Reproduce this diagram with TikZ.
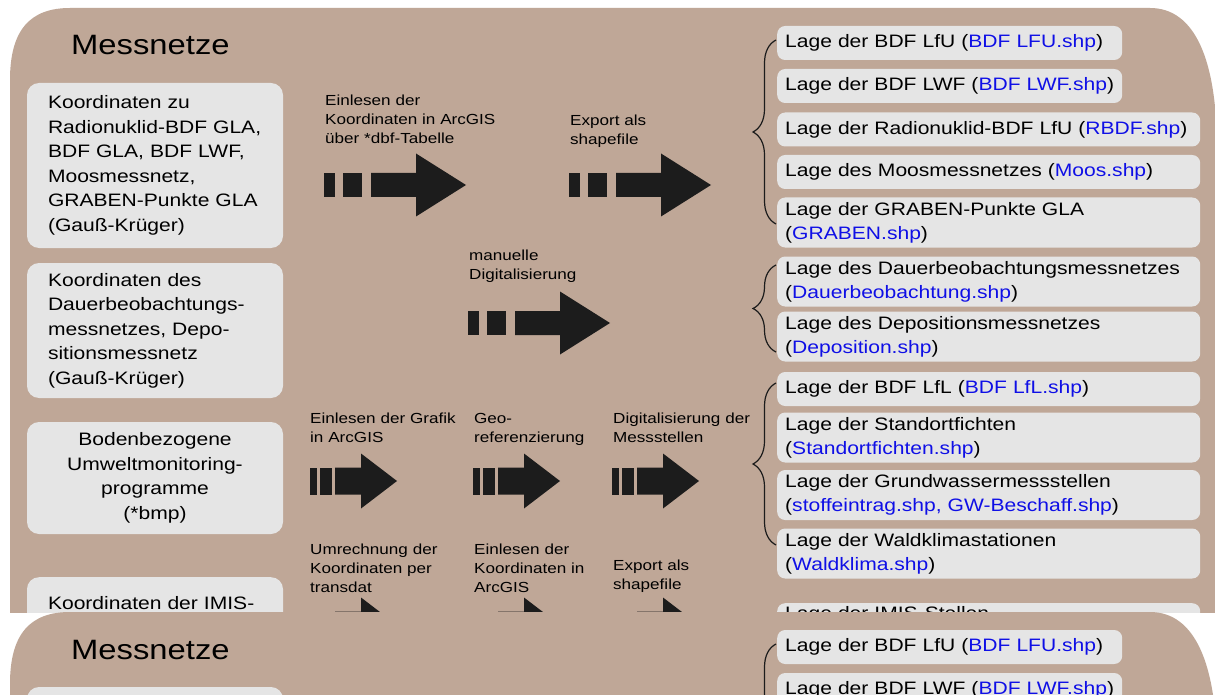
\documentclass[tikz,border=0pt]{standalone}
\usepackage{fontspec}
\setmainfont{Liberation Sans}[FakeStretch=1.17]
\usetikzlibrary{decorations.pathreplacing}

\definecolor{bgbrown}{RGB}{191,167,151}
\definecolor{boxgray}{RGB}{229,229,229}
\definecolor{linkblue}{RGB}{15,15,230}
\definecolor{arrblack}{RGB}{28,28,28}

\newcommand{\shp}[1]{\textcolor{linkblue}{#1}}

\newcommand{\bigarr}[2]{%
  \fill[arrblack] (#1,#2-12) rectangle ++(11,24);
  \fill[arrblack] (#1+19,#2-12) rectangle ++(19,24);
  \fill[arrblack] (#1+47,#2-12) -- (#1+92,#2-12) -- (#1+92,#2-31.5) -- (#1+142,#2)
    -- (#1+92,#2+31.5) -- (#1+92,#2+12) -- (#1+47,#2+12) -- cycle;}

\newcommand{\smallarr}[2]{%
  \fill[arrblack] (#1,#2-13.5) rectangle ++(7,27);
  \fill[arrblack] (#1+10,#2-13.5) rectangle ++(12,27);
  \fill[arrblack] (#1+25,#2-13.5) -- (#1+51,#2-13.5) -- (#1+51,#2-27.5) -- (#1+87,#2)
    -- (#1+51,#2+27.5) -- (#1+51,#2+13.5) -- (#1+25,#2+13.5) -- cycle;}

\tikzset{
  title/.style={anchor=base west, inner sep=0, font=\fontsize{28}{34}\selectfont},
  srcbox/.style={fill=boxgray, rounded corners=12pt, minimum width=256pt, text width=214pt,
    inner xsep=21pt, font=\fontsize{18}{24.5}\selectfont},
  stepnote/.style={anchor=base west, inner sep=0, text width=180pt, align=left,
    font=\fontsize{14.6}{19}\selectfont},
  layerbox/.style={fill=boxgray, rounded corners=8pt, anchor=west, inner xsep=8pt,
    inner ysep=0pt, text width=407pt, align=left, font=\fontsize{18}{24}\selectfont},
  onel/.style={layerbox, minimum height=34pt},
  twol/.style={layerbox, minimum height=50pt},
  grp/.style={decorate, decoration={brace, amplitude=23pt}, line width=1.2pt, arrblack},
}

\newcommand{\messnetze}{%
\fill[bgbrown] (10,700) -- (10,80) .. controls (10,30) and (30,8) .. (70,8) -- (1150,8)
  .. controls (1195,8) and (1217,60) .. (1217,150) -- (1217,700) -- cycle;

\node[title] (titel) at (71,55) {Messnetze};

\node[srcbox, minimum height=165pt, align=left] (quelle1) at (155,165.5) {Koordinaten zu\\ Radionuklid-BDF GLA,\\ BDF GLA, BDF LWF,\\ Moosmessnetz,\\ GRABEN-Punkte GLA\\ (Gauß-Krüger)};
\node[srcbox, minimum height=135pt, align=left] (quelle2) at (155,330.5) {Koordinaten des\\ Dauerbeobachtungs-\\ messnetzes, Depo-\\ sitionsmessnetz\\ (Gauß-Krüger)};
\node[srcbox, minimum height=112pt, align=center] (quelle3) at (155,478) {Bodenbezogene\\ Umweltmonitoring-\\ programme\\ (*bmp)};
\node[srcbox, align=left, anchor=north, inner ysep=4pt, text height=28.5pt, text depth=60pt] (quelle4) at (155,577) {Koordinaten der IMIS-};

\bigarr{324}{185}
\bigarr{569}{185}
\bigarr{468}{323}
\smallarr{310}{481}
\smallarr{473}{481}
\smallarr{612}{481}
\smallarr{310}{625}
\smallarr{473}{625}
\smallarr{612}{625}

\node[stepnote] (s1) at (325,106) {Einlesen der\\ Koordinaten in ArcGIS\\ über *dbf-Tabelle};
\node[stepnote] (s2) at (570,126) {Export als\\ shapefile};
\node[stepnote] (s3) at (469,260) {manuelle\\ Digitalisierung};
\node[stepnote] (s4) at (310,423) {Einlesen der Grafik\\ in ArcGIS};
\node[stepnote] (s5) at (474,423) {Geo-\\ referenzierung};
\node[stepnote] (s6) at (613,423) {Digitalisierung der\\ Messstellen};
\node[stepnote] (s7) at (310,554) {Umrechnung der\\ Koordinaten per\\ transdat};
\node[stepnote] (s8) at (474,554) {Einlesen der\\ Koordinaten in\\ ArcGIS};
\node[stepnote] (s9) at (613,570) {Export als\\ shapefile};

\node[onel, text width=329pt] (lfu) at (777,43) {Lage der BDF LfU (\shp{BDF LFU.shp})};
\node[onel, text width=329pt] (lwf) at (777,86) {Lage der BDF LWF (\mbox{\shp{BDF LWF.shp}})};
\node[onel] (rbdf) at (777,129.5) {Lage der Radionuklid-BDF LfU (\shp{RBDF.shp})};
\node[onel] (moos) at (777,172) {Lage des Moosmessnetzes (\shp{Moos.shp})};
\node[twol] (graben) at (777,222.5) {Lage der GRABEN-Punkte GLA\\ (\shp{GRABEN.shp})};
\node[twol] (dauer) at (777,281.5) {Lage des Dauerbeobachtungsmessnetzes\\ (\shp{Dauerbeobachtung.shp})};
\node[twol] (depo) at (777,336.5) {Lage des Depositionsmessnetzes\\ (\shp{Deposition.shp})};
\node[onel] (lfl) at (777,389) {Lage der BDF LfL (\shp{BDF LfL.shp})};
\node[twol] (fichten) at (777,437.5) {Lage der Standortfichten\\ (\shp{Standortfichten.shp})};
\node[twol] (gw) at (777,495) {Lage der Grundwassermessstellen\\ (\shp{stoffeintrag.shp, GW-Beschaff.shp})};
\node[twol] (wald) at (777,553.5) {Lage der Waldklimastationen\\ (\shp{Waldklima.shp})};
\node[layerbox, anchor=north west, inner ysep=3pt, text height=13pt, text depth=40pt] (imis) at (777,603) {Lage der IMIS-Stellen};

\draw[grp] (776,224) -- (776,40);
\draw[grp] (776,352) -- (776,265);
\draw[grp] (776,545) -- (776,383);
}

\begin{document}
\begin{tikzpicture}[x=1pt,y=-1pt]
\useasboundingbox (0,0) rectangle (1215,695);
\fill[white] (0,0) rectangle (1215,695);

\begin{scope}
  \clip (0,0) rectangle (1215,612);
  \messnetze
\end{scope}

\begin{scope}
  \clip (0,612) rectangle (1215,695);
  \begin{scope}[yshift=-604pt]
    \messnetze
  \end{scope}
\end{scope}
\end{tikzpicture}
\end{document}
